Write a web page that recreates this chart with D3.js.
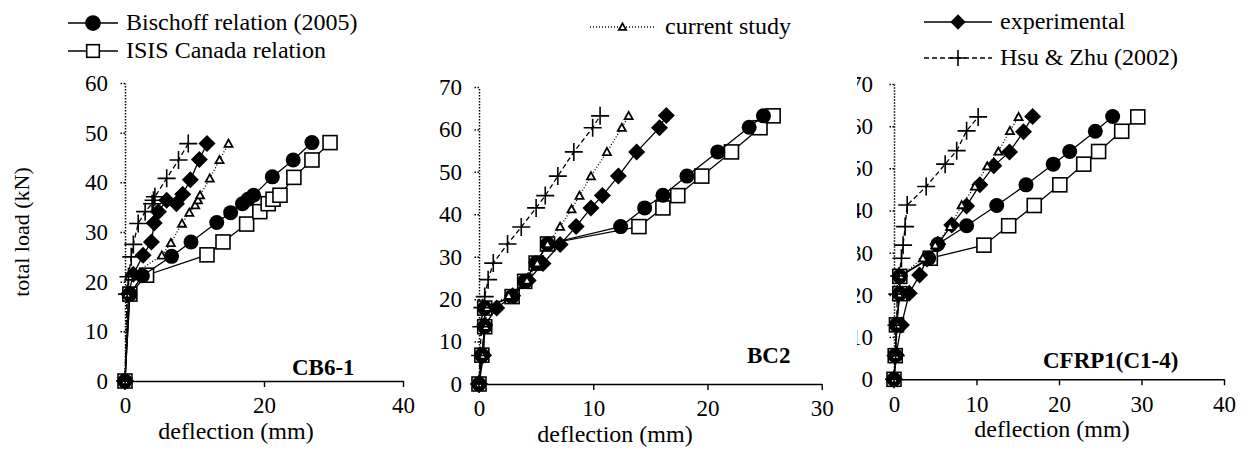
<!DOCTYPE html>
<html>
<head>
<meta charset="utf-8">
<script src="https://cdn.jsdelivr.net/npm/d3@7"></script>
<style>
  html, body { margin: 0; padding: 0; background: #fff; }
  svg { display: block; }
  text { font-family: "Liberation Serif", "Times New Roman", serif; fill: #000; }
</style>
</head>
<body>
<svg id="chart" width="1242" height="450"></svg>
<script>
// ---------------- DATA ----------------
const seriesNames = ["Bischoff relation (2005)", "ISIS Canada relation", "current study", "experimental", "Hsu & Zhu (2002)"];
const panelNames = ["CB6-1", "BC2", "CFRP1(C1-4)"];
const xTicks1 = [0, 20, 40];
const xTicks2 = [0, 10, 20, 30];
const xTicks3 = [0, 10, 20, 30, 40];
const yTicks1 = [0, 10, 20, 30, 40, 50, 60];
const yTicks23 = [0, 10, 20, 30, 40, 50, 60, 70];

// [deflection (mm), total load (kN)]
const cb61_bischoff = [[0,0],[0.7,17.5],[2.5,21.2],[6.7,25.1],[9.5,28.0],[13.2,31.9],[15.2,33.9],[16.9,35.7],[17.7,36.6],[18.5,37.4],[21.2,41.1],[24.2,44.5],[26.9,48.0]];
const cb61_isis = [[0,0],[0.7,17.5],[3.1,21.3],[11.8,25.4],[14.1,28.0],[17.5,31.6],[19.4,34.1],[20.6,35.7],[21.3,36.6],[22.3,37.4],[24.3,41.0],[26.9,44.5],[29.5,48.0]];
const cb61_current = [[0,0],[0.3,17.5],[0.6,21.0],[5.3,25.3],[6.6,27.8],[8.2,31.7],[9.25,33.9],[10.1,35.4],[10.5,36.4],[10.8,37.4],[12.2,40.8],[13.6,44.5],[14.9,47.8]];
const cb61_exp = [[0,0],[0.5,17.5],[1.2,21.5],[2.6,25.3],[3.8,28.0],[4.2,31.8],[4.8,34.1],[6.0,36.4],[7.4,35.7],[8.3,37.6],[9.4,40.5],[10.7,44.6],[11.8,47.8]];
const cb61_hsu = [[0,0],[0.3,17.5],[0.5,21.0],[0.9,25.0],[1.2,27.5],[1.9,31.7],[2.9,34.1],[3.9,35.7],[4.1,36.4],[4.3,37.1],[6.0,40.8],[7.7,44.5],[9.1,47.8]];

const bc2_bischoff = [[0,0],[0.25,6.8],[0.5,13.5],[0.5,17.9],[2.9,20.6],[4.0,24.2],[5.0,28.5],[6.0,33.0],[12.4,37.1],[14.5,41.5],[16.1,44.5],[18.2,49.0],[20.9,54.7],[23.65,60.5],[24.9,63.2]];
const bc2_isis = [[0,0],[0.25,6.8],[0.5,13.5],[0.5,17.9],[2.9,20.6],[4.0,24.2],[5.0,28.5],[6.0,33.0],[14.0,37.1],[16.1,41.5],[17.4,44.4],[19.5,49.0],[22.1,54.7],[24.6,60.4],[25.75,63.2]];
const bc2_current = [[0,0],[0.3,6.7],[0.6,13.5],[0.7,18.0],[2.6,20.8],[4.2,24.4],[5.1,28.5],[6.0,33.0],[7.1,37.1],[8.1,41.2],[8.8,44.4],[9.8,49.0],[11.2,54.7],[12.5,60.4],[13.1,63.2]];
const bc2_exp = [[0,0],[0.4,6.8],[0.5,13.9],[1.55,17.9],[2.95,20.8],[4.3,24.4],[5.6,28.4],[7.1,32.9],[8.5,37.1],[9.8,41.5],[10.8,44.4],[12.2,49.0],[13.8,54.7],[15.8,60.4],[16.4,63.3]];
const bc2_hsu = [[0,0],[0.1,6.7],[0.2,13.5],[0.3,18.0],[0.5,20.6],[0.8,24.6],[1.25,28.5],[2.5,33.0],[3.7,37.0],[5.0,41.5],[5.8,44.4],[6.9,49.0],[8.3,54.7],[9.95,60.4],[10.6,63.2]];

const cfrp_bischoff = [[0,0],[0.15,5.6],[0.3,12.9],[0.7,20.3],[0.7,24.4],[4.2,28.7],[5.3,32.0],[8.8,36.4],[12.45,41.2],[16.0,46.1],[19.3,51.0],[21.3,54.0],[24.4,58.8],[26.5,62.3]];
const cfrp_isis = [[0,0],[0.15,5.6],[0.3,12.9],[0.7,20.3],[0.7,24.4],[4.4,28.7],[10.9,31.8],[13.9,36.4],[17.0,41.2],[20.1,46.1],[23.0,51.0],[24.8,54.0],[27.6,58.8],[29.55,62.2]];
const cfrp_current = [[0,0],[0.2,5.6],[0.4,12.8],[0.6,20.2],[0.8,24.5],[3.5,28.7],[5.0,31.8],[6.8,36.2],[8.2,41.3],[9.8,45.7],[11.3,50.5],[12.65,54.0],[14.05,58.9],[15.1,62.2]];
const cfrp_exp = [[0,0],[0.25,5.8],[0.9,12.9],[1.85,20.4],[3.1,24.7],[4.0,28.5],[5.3,32.0],[7.0,36.6],[8.8,41.1],[10.4,46.1],[12.1,50.6],[14.0,53.9],[15.7,58.7],[16.8,62.3]];
const cfrp_hsu = [[0,0],[0.2,5.6],[0.3,12.8],[0.4,20.2],[0.6,24.5],[0.9,28.7],[1.1,31.8],[1.35,36.2],[1.6,41.3],[3.9,45.7],[6.2,51.0],[7.6,54.2],[8.8,58.9],[10.2,62.2]];

// ---------------- DRAWING ----------------
const svg = d3.select("#chart");
const FONT = 23;

const styles = [
  { key: "bischoff", dash: null, width: 1.3, marker: "circle" },
  { key: "isis", dash: null, width: 1.3, marker: "square" },
  { key: "current", dash: "1,2", width: 1.3, marker: "triangle" },
  { key: "exp", dash: null, width: 1.3, marker: "diamond" },
  { key: "hsu", dash: "5,3", width: 1.3, marker: "cross" }
];

function drawMarker(g, type, x, y, scale) {
  const s = scale || 1;
  if (type === "circle") {
    g.append("circle").attr("cx", x).attr("cy", y).attr("r", 7.5 * s).attr("fill", "#000");
  } else if (type === "square") {
    const h = 7 * s;
    g.append("rect").attr("x", x - h).attr("y", y - h).attr("width", 2 * h).attr("height", 2 * h)
      .attr("fill", "#fff").attr("stroke", "#000").attr("stroke-width", 1.6);
  } else if (type === "diamond") {
    const h = 8.5 * s;
    g.append("path").attr("d", `M${x},${y - h}L${x + h},${y}L${x},${y + h}L${x - h},${y}Z`).attr("fill", "#000");
  } else if (type === "triangle") {
    const h = 4 * s;
    g.append("path").attr("d", `M${x},${y - h}L${x + h},${y + h * 0.8}L${x - h},${y + h * 0.8}Z`)
      .attr("fill", "#fff").attr("stroke", "#000").attr("stroke-width", 1.8);
  } else if (type === "cross") {
    const h = 9 * s;
    g.append("path").attr("d", `M${x - h},${y}H${x + h}M${x},${y - h}V${y + h}`)
      .attr("stroke", "#000").attr("stroke-width", 1.6).attr("fill", "none");
  }
}

const panels = [
  { name: panelNames[0], xd: [0, 40], xr: [125, 403], yd: [0, 60], yr: [381, 83], xt: xTicks1, yt: yTicks1,
    data: { bischoff: cb61_bischoff, isis: cb61_isis, current: cb61_current, exp: cb61_exp, hsu: cb61_hsu },
    titleX: 236, labelX: 292, labelY: 375, clip: null, pad: 12 },
  { name: panelNames[1], xd: [0, 30], xr: [479, 821.7], yd: [0, 70], yr: [384, 87], xt: xTicks2, yt: yTicks23,
    data: { bischoff: bc2_bischoff, isis: bc2_isis, current: bc2_current, exp: bc2_exp, hsu: bc2_hsu },
    titleX: 615, labelX: 747, labelY: 363, clip: null, pad: 12 },
  { name: panelNames[2], xd: [0, 40], xr: [894, 1224], yd: [0, 70], yr: [379.3, 84], xt: xTicks3, yt: yTicks23,
    data: { bischoff: cfrp_bischoff, isis: cfrp_isis, current: cfrp_current, exp: cfrp_exp, hsu: cfrp_hsu },
    titleX: 1052, labelX: 1043, labelY: 368, clip: 857, pad: 16 }
];

const defs = svg.append("defs");

panels.forEach((p, i) => {
  const x = d3.scaleLinear().domain(p.xd).range(p.xr);
  const y = d3.scaleLinear().domain(p.yd).range(p.yr);
  const g = svg.append("g");

  // y axis (dotted)
  const yAxis = d3.axisLeft(y).tickValues(p.yt).tickSize(5).tickSizeOuter(0).tickPadding(p.pad);
  const ya = g.append("g").attr("transform", `translate(${p.xr[0]},0)`).call(yAxis);
  ya.select(".domain").attr("stroke", "#000").attr("stroke-width", 1.5).attr("stroke-dasharray", "1.5,1.5");
  ya.selectAll(".tick line").attr("stroke", "#000").attr("stroke-width", 1.5).attr("stroke-dasharray", "1.5,1.5");
  ya.selectAll(".tick text").attr("font-size", FONT).attr("font-family", "Liberation Serif").attr("fill", "#000");
  if (p.clip !== null) {
    const cid = "clip" + i;
    defs.append("clipPath").attr("id", cid).append("rect")
      .attr("x", p.clip - p.xr[0]).attr("y", -40).attr("width", 200).attr("height", 80);
    ya.selectAll(".tick text").attr("clip-path", `url(#${cid})`);
  }

  // x axis (solid)
  const xAxis = d3.axisBottom(x).tickValues(p.xt).tickSize(6).tickSizeOuter(0).tickPadding(10);
  const xa = g.append("g").attr("transform", `translate(0,${p.yr[0]})`).call(xAxis);
  xa.select(".domain").attr("stroke", "#000").attr("stroke-width", 1.6);
  xa.selectAll(".tick line").attr("stroke", "#000").attr("stroke-width", 1.4);
  xa.selectAll(".tick text").attr("font-size", FONT).attr("font-family", "Liberation Serif").attr("fill", "#000");

  // x title
  g.append("text").attr("x", p.titleX).attr("y", p.yr[0] + 58).attr("text-anchor", "middle")
    .attr("font-size", 24).text("deflection (mm)");

  // panel label
  g.append("text").attr("x", p.labelX).attr("y", p.labelY).attr("font-size", 23)
    .attr("font-weight", "bold").text(p.name);

  // series
  const line = d3.line().x(d => x(d[0])).y(d => y(d[1]));
  const order = ["isis", "bischoff", "exp", "current", "hsu"];
  order.forEach(k => {
    const st = styles.find(s => s.key === k);
    const pts = p.data[k];
    const sg = g.append("g");
    sg.append("path").datum(pts).attr("d", line).attr("fill", "none").attr("stroke", "#000")
      .attr("stroke-width", st.width).attr("stroke-dasharray", st.dash);
    pts.forEach(d => drawMarker(sg, st.marker, x(d[0]), y(d[1])));
  });
});

// y title
svg.append("text").attr("transform", "translate(29,232) rotate(-90)").attr("text-anchor", "middle")
  .attr("font-size", 22).text("total load (kN)");

// legend
const legendItems = [
  { idx: 0, x1: 68, x2: 118, y: 23, tx: 126 },
  { idx: 1, x1: 68, x2: 118, y: 51, tx: 126 },
  { idx: 2, x1: 590, x2: 655, y: 27, tx: 665 },
  { idx: 3, x1: 924, x2: 992, y: 22, tx: 1000 },
  { idx: 4, x1: 924, x2: 992, y: 58, tx: 1000 }
];
const lg = svg.append("g");
legendItems.forEach(it => {
  const st = styles[it.idx];
  lg.append("line").attr("x1", it.x1).attr("x2", it.x2).attr("y1", it.y).attr("y2", it.y)
    .attr("stroke", "#000").attr("stroke-width", st.width).attr("stroke-dasharray", st.dash);
  drawMarker(lg, st.marker, (it.x1 + it.x2) / 2, it.y, st.marker === "circle" ? 1.05 : 0.9);
  lg.append("text").attr("x", it.tx).attr("y", it.y + 7).attr("font-size", 24).text(seriesNames[it.idx]);
});
</script>
</body>
</html>
